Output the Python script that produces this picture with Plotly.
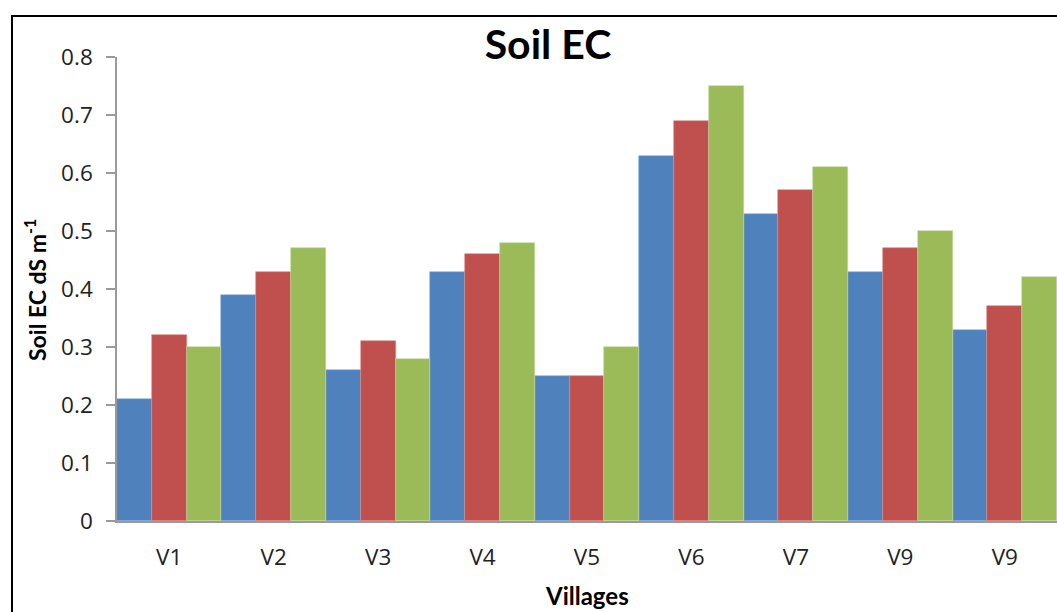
import plotly.graph_objects as go

villages = ["V1", "V2", "V3", "V4", "V5", "V6", "V7", "V9", "V9"]
series_a = [0.21, 0.39, 0.26, 0.43, 0.25, 0.63, 0.53, 0.43, 0.33]
series_b = [0.32, 0.43, 0.31, 0.46, 0.25, 0.69, 0.57, 0.47, 0.37]
series_c = [0.30, 0.47, 0.28, 0.48, 0.30, 0.75, 0.61, 0.50, 0.42]
y_ticks = [0, 0.1, 0.2, 0.3, 0.4, 0.5, 0.6, 0.7, 0.8]
y_tick_text = ["0", "0.1", "0.2", "0.3", "0.4", "0.5", "0.6", "0.7", "0.8"]

colors = ["#4F81BD", "#C0504D", "#9BBB59"]
edge = ["#8FB0D8", "#D98C8A", "#C2D79A"]
xs = list(range(len(villages)))

fig = go.Figure()
for vals, c, e in zip([series_a, series_b, series_c], colors, edge):
    fig.add_trace(go.Bar(x=xs, y=vals, marker=dict(color=c, line=dict(color=e, width=0.6))))

W, H = 1057, 612
L, R, T, B = 117, 0, 57, 91
pw, ph = W - L - R, H - T - B

def px_to_paper_x(p):
    return (p - L) / pw

def px_to_paper_y(p):
    return (H - B - p) / ph

tick_font = "Open Sans, sans-serif"
bold_font = "Lato, Open Sans, sans-serif"

fig.update_layout(
    width=W, height=H,
    margin=dict(l=L, r=R, t=T, b=B, pad=0),
    barmode="group", bargap=0, bargroupgap=0,
    showlegend=False,
    plot_bgcolor="white", paper_bgcolor="white",
    font=dict(family=tick_font, color="#222222"),
    xaxis=dict(
        tickmode="array", tickvals=xs, ticktext=villages,
        range=[-0.5, len(villages) - 0.5],
        showline=True, linecolor="#9a9a9a", linewidth=1.5,
        ticks="", showgrid=False, zeroline=False,
        tickfont=dict(size=22.5, family=tick_font, color="#222222"),
        ticklabelstandoff=15,
    ),
    yaxis=dict(
        tickmode="array", tickvals=y_ticks, ticktext=y_tick_text,
        range=[0, 0.8],
        showline=True, linecolor="#9a9a9a", linewidth=1.5,
        ticks="outside", ticklen=9, tickcolor="#9a9a9a", tickwidth=1.5,
        showgrid=False, zeroline=False,
        tickfont=dict(size=22.5, family=tick_font, color="#222222"),
        ticklabelstandoff=9,
    ),
    title=dict(
        text="<b>Soil EC</b>", font=dict(size=41, family=bold_font, color="black"),
        xref="container", yref="container", x=548 / W, y=1 - 45 / H,
        xanchor="center", yanchor="middle",
    ),
)

fig.add_annotation(
    text="<b>Soil EC dS m<sup>-1</sup></b>", textangle=-90,
    xref="paper", yref="paper", x=px_to_paper_x(35), y=px_to_paper_y(290),
    xanchor="center", yanchor="middle", showarrow=False,
    font=dict(size=23, family=bold_font, color="black"),
)
fig.add_annotation(
    text="<b>Villages</b>",
    xref="paper", yref="paper", x=px_to_paper_x(587), y=px_to_paper_y(595),
    xanchor="center", yanchor="middle", showarrow=False,
    font=dict(size=24, family=bold_font, color="black"),
)

fig.add_shape(
    type="rect", xref="paper", yref="paper",
    x0=px_to_paper_x(12), y0=px_to_paper_y(640),
    x1=px_to_paper_x(1080), y1=px_to_paper_y(16),
    line=dict(color="black", width=2), fillcolor="rgba(0,0,0,0)", layer="above",
)

fig.write_html(
    "out.html",
    config={"displayModeBar": False},
    post_script="document.body.style.margin='0';document.body.style.overflow='hidden';",
)
